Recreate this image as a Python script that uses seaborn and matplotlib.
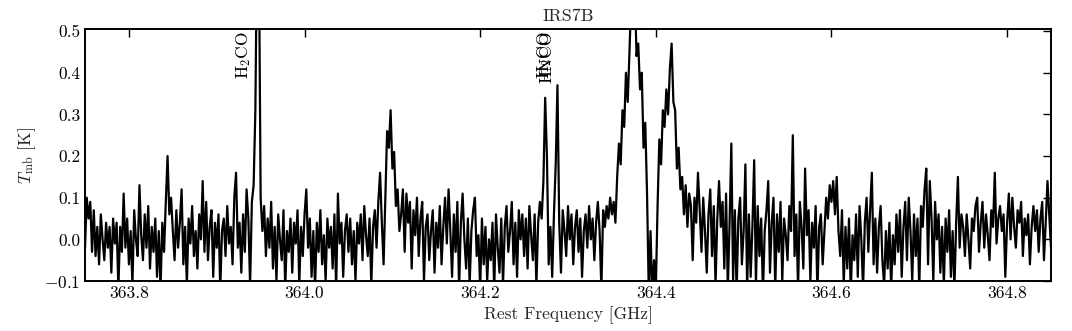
import matplotlib
matplotlib.use("Agg")
import matplotlib.pyplot as plt
import numpy as np
import seaborn as sns

# channel grid of the spectrum (GHz)
freq_start = 363.750
freq_step = 0.002

# main-beam temperature per channel [K]
tmb = [
    -0.02, 0.10, 0.05, 0.09, -0.03, 0.07, -0.04, 0.03, -0.06, 0.06,
    0.00, -0.05, 0.04, -0.02, 0.03, -0.08, 0.05, -0.01, 0.04, -0.12,
    0.03, -0.03, 0.11, -0.02, 0.05, -0.06, 0.02, -0.11, 0.07, 0.00,
    -0.04, 0.13, 0.01, -0.05, 0.06, -0.02, 0.08, -0.07, 0.03, -0.03,
    0.05, -0.09, 0.02, -0.12, 0.04, -0.03, 0.09, 0.20, 0.06, 0.10,
    0.02, -0.05, 0.07, -0.02, 0.04, 0.12, -0.06, 0.03, -0.11, 0.05,
    -0.01, 0.08, -0.04, 0.02, -0.07, 0.06, 0.00, 0.14, -0.03, 0.09,
    -0.05, 0.03, 0.07, -0.09, 0.04, -0.02, 0.06, -0.12, 0.02, 0.05,
    -0.04, 0.08, -0.01, 0.03, -0.06, 0.10, 0.16, -0.02, 0.04, -0.08,
    0.06, -0.03, 0.12, 0.05, -0.11, 0.09, 0.13, 0.31, 0.75, 0.70,
    0.10, 0.02, 0.08, -0.04, 0.05, -0.02, 0.09, -0.07, 0.03, -0.10,
    0.06, 0.00, -0.05, 0.07, -0.12, 0.02, -0.03, 0.05, -0.08, 0.04,
    -0.01, 0.07, -0.11, 0.03, -0.04, 0.06, 0.12, -0.02, 0.05, -0.09,
    0.02, -0.12, 0.04, -0.03, 0.07, -0.06, 0.01, -0.10, 0.05, -0.02,
    0.03, -0.07, 0.06, -0.12, 0.11, -0.01, 0.04, -0.09, 0.02, 0.06,
    -0.03, 0.05, -0.06, 0.02, -0.10, 0.04, -0.01, 0.06, -0.05, 0.08,
    0.01, -0.04, 0.05, -0.11, 0.03, 0.07, -0.02, 0.09, 0.16, 0.04,
    -0.06, 0.10, 0.26, 0.22, 0.31, 0.17, 0.21, 0.08, 0.12, 0.02,
    0.06, 0.12, -0.03, 0.11, 0.04, 0.09, -0.07, 0.07, 0.01, 0.10,
    -0.04, 0.05, 0.09, -0.10, 0.03, 0.06, -0.05, 0.02, 0.07, -0.08,
    0.04, -0.02, 0.08, -0.06, 0.03, 0.10, -0.01, 0.12, 0.02, -0.09,
    0.06, -0.03, 0.09, -0.12, 0.04, 0.11, 0.00, -0.07, 0.05, -0.11,
    0.02, 0.07, 0.10, -0.04, 0.01, -0.12, 0.05, -0.06, 0.03, -0.10,
    0.00, -0.05, 0.04, -0.12, 0.06, -0.02, -0.08, 0.05, -0.11, 0.03,
    0.08, -0.03, 0.02, 0.09, -0.06, 0.04, -0.09, 0.07, 0.00, 0.06,
    -0.04, 0.05, -0.07, 0.08, 0.01, -0.05, 0.06, -0.11, 0.04, 0.09,
    0.05, 0.14, 0.34, 0.20, -0.06, 0.03, -0.09, 0.06, 0.18, 0.37,
    0.04, -0.08, 0.07, 0.02, -0.04, 0.08, 0.00, 0.06, -0.06, 0.03,
    0.07, -0.03, 0.05, -0.09, 0.02, 0.06, -0.02, 0.08, 0.00, 0.05,
    -0.05, 0.04, 0.09, 0.02, -0.12, 0.07, 0.03, 0.08, 0.05, 0.10,
    0.06, 0.09, 0.04, 0.15, 0.23, 0.18, 0.31, 0.27, 0.40, 0.33,
    0.45, 0.58, 0.52, 0.62, 0.44, 0.47, 0.36, 0.40, 0.22, 0.28,
    0.11, -0.13, 0.02, -0.14, -0.05, -0.12, 0.08, 0.24, 0.18, 0.31,
    0.27, 0.36, 0.30, 0.41, 0.47, 0.33, 0.31, 0.17, 0.22, 0.12,
    0.15, 0.06, 0.13, 0.03, 0.11, 0.08, -0.05, 0.10, 0.04, 0.16,
    0.07, -0.03, 0.10, 0.02, -0.08, 0.06, 0.12, -0.04, 0.08, -0.11,
    0.05, 0.14, 0.03, 0.09, -0.07, 0.11, -0.12, 0.04, 0.23, -0.10,
    0.07, -0.13, 0.05, 0.10, -0.06, 0.02, 0.18, -0.12, 0.06, -0.09,
    0.03, 0.19, -0.11, 0.08, -0.04, 0.05, -0.13, 0.02, 0.07, 0.14,
    -0.08, 0.04, 0.10, -0.12, 0.06, -0.03, 0.09, -0.10, 0.05, 0.01,
    -0.05, 0.08, 0.02, 0.25, -0.04, 0.06, -0.12, 0.09, 0.03, -0.07,
    0.17, 0.01, 0.07, -0.10, 0.04, -0.02, 0.08, -0.13, 0.03, 0.06,
    -0.06, 0.02, 0.10, 0.05, 0.13, 0.09, 0.14, 0.06, 0.15, 0.02,
    -0.04, 0.07, -0.11, 0.03, -0.07, 0.05, -0.13, 0.01, -0.05, 0.06,
    -0.09, 0.08, 0.00, -0.12, 0.04, 0.10, -0.03, 0.07, 0.16, -0.06,
    0.05, -0.08, 0.03, 0.08, -0.05, -0.11, 0.02, -0.07, 0.04, -0.12,
    0.01, -0.06, 0.06, -0.03, 0.07, -0.09, 0.03, 0.09, -0.05, 0.10,
    0.02, -0.10, 0.06, -0.04, 0.05, -0.12, 0.08, 0.03, 0.12, 0.17,
    -0.06, 0.14, 0.05, -0.10, 0.09, 0.00, 0.06, -0.08, 0.03, -0.11,
    0.05, -0.03, 0.07, -0.09, 0.02, -0.12, 0.04, 0.15, -0.02, 0.06,
    0.03, -0.04, 0.06, 0.00, -0.07, 0.05, 0.02, 0.08, 0.10, -0.03,
    0.04, 0.09, -0.02, 0.06, 0.01, -0.05, 0.07, 0.03, 0.16, -0.01,
    0.05, 0.08, 0.02, 0.06, -0.09, 0.04, 0.11, 0.00, 0.10, 0.03,
    -0.02, 0.07, 0.04, 0.09, -0.04, 0.05, 0.01, 0.06, -0.06, 0.03,
    0.08, 0.02, 0.07, -0.03, 0.05, 0.09, -0.05, 0.04, 0.14, 0.06,
    -0.02,
]

# line identifications (label position in GHz, label text)
line_freqs = [363.9305, 364.2728, 364.2756]
line_names = ["H$_2$CO", "H$_2$CO", "HNCO"]

x_ticks = [363.8, 364.0, 364.2, 364.4, 364.6, 364.8]
y_ticks = [-0.1, 0.0, 0.1, 0.2, 0.3, 0.4, 0.5]


def main():
    sns.set_theme(style="white")
    plt.rcParams.update({
        "font.family": "serif",
        "font.serif": ["cmr10"],
        "mathtext.fontset": "cm",
        "axes.formatter.use_mathtext": True,
        "font.size": 12.5,
        "axes.edgecolor": "black",
        "axes.linewidth": 1.4,
        "xtick.direction": "in",
        "ytick.direction": "in",
        "xtick.top": True,
        "ytick.right": True,
        "xtick.major.size": 6,
        "ytick.major.size": 6,
        "xtick.color": "black",
        "ytick.color": "black",
    })

    freq = freq_start + freq_step * np.arange(len(tmb))

    fig = plt.figure(figsize=(10.72, 3.31), dpi=100)
    ax = fig.add_axes([0.0793, 0.151, 0.9011, 0.7614])

    sns.lineplot(x=freq, y=np.array(tmb), color="black", linewidth=1.6,
                 ax=ax, estimator=None, sort=False)

    for f, name in zip(line_freqs, line_names):
        ax.text(f, 0.50, name, rotation=90, ha="center", va="top",
                fontsize=12.5, color="black")

    ax.set_xlim(363.75, 364.85)
    ax.set_ylim(-0.1, 0.505)
    ax.set_xticks(x_ticks)
    ax.set_yticks(y_ticks)
    ax.set_xticklabels([f"{t:.1f}" for t in x_ticks])
    ax.set_yticklabels(["$-$0.1" if t < 0 else f"{t:.1f}" for t in y_ticks])
    ax.tick_params(labelsize=12.5, width=1)

    ax.set_title("IRS7B", fontsize=13, pad=6)
    ax.set_xlabel("Rest Frequency [GHz]", fontsize=12.5)
    ax.set_ylabel(r"$T_{\rm mb}$ [K]", fontsize=12.5)

    fig.savefig("out.png", dpi=100)
    plt.close(fig)


if __name__ == "__main__":
    main()
